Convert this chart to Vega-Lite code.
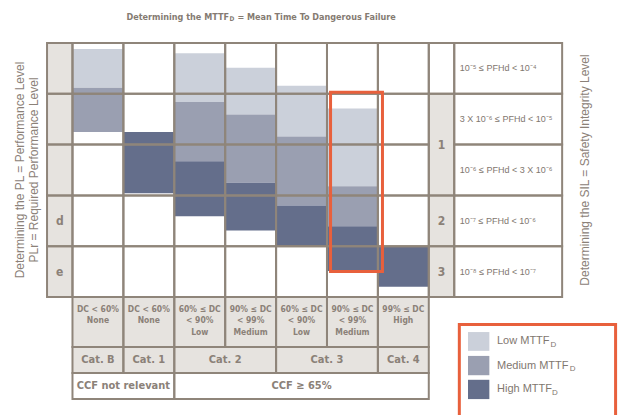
{
  "$schema": "https://vega.github.io/schema/vega-lite/v6.json",
  "width": 619,
  "height": 415,
  "padding": 0,
  "autosize": {"type": "none"},
  "background": "white",
  "view": {"stroke": null},
  "config": {"text": {"color": "#8b8178", "font": "DejaVu Sans Condensed, sans-serif"}},
  "encoding": {
    "x": {"field": "x", "type": "quantitative", "scale": {"domain": [-1.424, 10.737], "nice": false, "zero": false}, "axis": null},
    "y": {"field": "y", "type": "quantitative", "scale": {"domain": [-0.846, 7.323], "nice": false, "zero": false, "reverse": true}, "axis": null}
  },
  "resolve": {"scale": {"color": "independent"}},
  "datasets": {
    "cells": [
      {"x": -0.5, "x2": 0, "y": 0, "y2": 1, "kind": "header"},
      {"x": -0.5, "x2": 0, "y": 1, "y2": 2, "kind": "header"},
      {"x": -0.5, "x2": 0, "y": 2, "y2": 3, "kind": "header"},
      {"x": -0.5, "x2": 0, "y": 3, "y2": 4, "kind": "header"},
      {"x": -0.5, "x2": 0, "y": 4, "y2": 5, "kind": "header"},
      {"x": 0, "x2": 1, "y": 0, "y2": 1, "kind": "plain"},
      {"x": 0, "x2": 1, "y": 1, "y2": 2, "kind": "plain"},
      {"x": 0, "x2": 1, "y": 2, "y2": 3, "kind": "plain"},
      {"x": 0, "x2": 1, "y": 3, "y2": 4, "kind": "plain"},
      {"x": 0, "x2": 1, "y": 4, "y2": 5, "kind": "plain"},
      {"x": 1, "x2": 2, "y": 0, "y2": 1, "kind": "plain"},
      {"x": 1, "x2": 2, "y": 1, "y2": 2, "kind": "plain"},
      {"x": 1, "x2": 2, "y": 2, "y2": 3, "kind": "plain"},
      {"x": 1, "x2": 2, "y": 3, "y2": 4, "kind": "plain"},
      {"x": 1, "x2": 2, "y": 4, "y2": 5, "kind": "plain"},
      {"x": 2, "x2": 3, "y": 0, "y2": 1, "kind": "plain"},
      {"x": 2, "x2": 3, "y": 1, "y2": 2, "kind": "plain"},
      {"x": 2, "x2": 3, "y": 2, "y2": 3, "kind": "plain"},
      {"x": 2, "x2": 3, "y": 3, "y2": 4, "kind": "plain"},
      {"x": 2, "x2": 3, "y": 4, "y2": 5, "kind": "plain"},
      {"x": 3, "x2": 4, "y": 0, "y2": 1, "kind": "plain"},
      {"x": 3, "x2": 4, "y": 1, "y2": 2, "kind": "plain"},
      {"x": 3, "x2": 4, "y": 2, "y2": 3, "kind": "plain"},
      {"x": 3, "x2": 4, "y": 3, "y2": 4, "kind": "plain"},
      {"x": 3, "x2": 4, "y": 4, "y2": 5, "kind": "plain"},
      {"x": 4, "x2": 5, "y": 0, "y2": 1, "kind": "plain"},
      {"x": 4, "x2": 5, "y": 1, "y2": 2, "kind": "plain"},
      {"x": 4, "x2": 5, "y": 2, "y2": 3, "kind": "plain"},
      {"x": 4, "x2": 5, "y": 3, "y2": 4, "kind": "plain"},
      {"x": 4, "x2": 5, "y": 4, "y2": 5, "kind": "plain"},
      {"x": 5, "x2": 6, "y": 0, "y2": 1, "kind": "plain"},
      {"x": 5, "x2": 6, "y": 1, "y2": 2, "kind": "plain"},
      {"x": 5, "x2": 6, "y": 2, "y2": 3, "kind": "plain"},
      {"x": 5, "x2": 6, "y": 3, "y2": 4, "kind": "plain"},
      {"x": 5, "x2": 6, "y": 4, "y2": 5, "kind": "plain"},
      {"x": 6, "x2": 7, "y": 0, "y2": 1, "kind": "plain"},
      {"x": 6, "x2": 7, "y": 1, "y2": 2, "kind": "plain"},
      {"x": 6, "x2": 7, "y": 2, "y2": 3, "kind": "plain"},
      {"x": 6, "x2": 7, "y": 3, "y2": 4, "kind": "plain"},
      {"x": 6, "x2": 7, "y": 4, "y2": 5, "kind": "plain"},
      {"x": 7, "x2": 7.5, "y": 0, "y2": 1, "kind": "plain"},
      {"x": 7, "x2": 7.5, "y": 1, "y2": 3, "kind": "header"},
      {"x": 7, "x2": 7.5, "y": 3, "y2": 4, "kind": "header"},
      {"x": 7, "x2": 7.5, "y": 4, "y2": 5, "kind": "header"},
      {"x": 7.5, "x2": 9.62, "y": 0, "y2": 1, "kind": "plain"},
      {"x": 7.5, "x2": 9.62, "y": 1, "y2": 2, "kind": "plain"},
      {"x": 7.5, "x2": 9.62, "y": 2, "y2": 3, "kind": "plain"},
      {"x": 7.5, "x2": 9.62, "y": 3, "y2": 4, "kind": "plain"},
      {"x": 7.5, "x2": 9.62, "y": 4, "y2": 5, "kind": "plain"},
      {"x": 0, "x2": 1, "y": 5, "y2": 5.984, "kind": "header"},
      {"x": 1, "x2": 2, "y": 5, "y2": 5.984, "kind": "header"},
      {"x": 2, "x2": 3, "y": 5, "y2": 5.984, "kind": "header"},
      {"x": 3, "x2": 4, "y": 5, "y2": 5.984, "kind": "header"},
      {"x": 4, "x2": 5, "y": 5, "y2": 5.984, "kind": "header"},
      {"x": 5, "x2": 6, "y": 5, "y2": 5.984, "kind": "header"},
      {"x": 6, "x2": 7, "y": 5, "y2": 5.984, "kind": "header"},
      {"x": 0, "x2": 1, "y": 5.984, "y2": 6.496, "kind": "header"},
      {"x": 1, "x2": 2, "y": 5.984, "y2": 6.496, "kind": "header"},
      {"x": 2, "x2": 4, "y": 5.984, "y2": 6.496, "kind": "header"},
      {"x": 4, "x2": 6, "y": 5.984, "y2": 6.496, "kind": "header"},
      {"x": 6, "x2": 7, "y": 5.984, "y2": 6.496, "kind": "header"},
      {"x": 0, "x2": 2, "y": 6.496, "y2": 7.008, "kind": "plain"},
      {"x": 2, "x2": 7, "y": 6.496, "y2": 7.008, "kind": "plain"}
    ],
    "bars": [
      {"x": 0, "x2": 1, "y": 0.12, "y2": 0.88, "level": "Low"},
      {"x": 0, "x2": 1, "y": 0.88, "y2": 1.75, "level": "Medium"},
      {"x": 1, "x2": 2, "y": 1.75, "y2": 2.96, "level": "High"},
      {"x": 2, "x2": 3, "y": 0.2, "y2": 1.16, "level": "Low"},
      {"x": 2, "x2": 3, "y": 1.16, "y2": 2.33, "level": "Medium"},
      {"x": 2, "x2": 3, "y": 2.33, "y2": 3.41, "level": "High"},
      {"x": 3, "x2": 4, "y": 0.49, "y2": 1.41, "level": "Low"},
      {"x": 3, "x2": 4, "y": 1.41, "y2": 2.75, "level": "Medium"},
      {"x": 3, "x2": 4, "y": 2.75, "y2": 3.69, "level": "High"},
      {"x": 4, "x2": 5, "y": 0.84, "y2": 1.84, "level": "Low"},
      {"x": 4, "x2": 5, "y": 1.84, "y2": 3.2, "level": "Medium"},
      {"x": 4, "x2": 5, "y": 3.2, "y2": 4.0, "level": "High"},
      {"x": 5, "x2": 6, "y": 1.29, "y2": 2.82, "level": "Low"},
      {"x": 5, "x2": 6, "y": 2.82, "y2": 3.61, "level": "Medium"},
      {"x": 5, "x2": 6, "y": 3.61, "y2": 4.49, "level": "High"},
      {"x": 6, "x2": 7, "y": 4.0, "y2": 4.8, "level": "High"}
    ]
  },
  "layer": [
    {
      "data": {"name": "cells"},
      "mark": {"type": "rect"},
      "encoding": {
        "x2": {"field": "x2"}, "y2": {"field": "y2"},
        "color": {"field": "kind", "type": "nominal", "scale": {"domain": ["header", "plain"], "range": ["#e6e3df", "#ffffff"]}, "legend": null}
      }
    },
    {
      "data": {"name": "bars"},
      "mark": {"type": "rect"},
      "encoding": {
        "x2": {"field": "x2"}, "y2": {"field": "y2"},
        "color": {"field": "level", "type": "nominal", "scale": {"domain": ["Low", "Medium", "High"], "range": ["#cbd0da", "#9a9fb1", "#646e8b"]}, "legend": null}
      }
    },
    {
      "data": {"name": "cells"},
      "mark": {"type": "rect", "filled": false, "stroke": "#8f857a", "strokeWidth": 2},
      "encoding": {"x2": {"field": "x2"}, "y2": {"field": "y2"}}
    },
    {
      "data": {"values": [
        {"box": "highlight", "x": 5.07, "x2": 6.09, "y": 0.97, "y2": 4.5},
        {"box": "legend", "x": 7.6, "x2": 10.67, "y": 5.54, "y2": 7.6}
      ]},
      "mark": {"type": "rect", "filled": false, "stroke": "#e8603c", "strokeWidth": 3},
      "encoding": {"x2": {"field": "x2"}, "y2": {"field": "y2"}}
    },
    {
      "data": {"values": [
        {"level": "Low", "x": 7.77, "x2": 8.19, "y": 5.69, "y2": 6.06},
        {"level": "Medium", "x": 7.77, "x2": 8.19, "y": 6.16, "y2": 6.54},
        {"level": "High", "x": 7.77, "x2": 8.19, "y": 6.63, "y2": 7.01}
      ]},
      "mark": {"type": "rect"},
      "encoding": {
        "x2": {"field": "x2"}, "y2": {"field": "y2"},
        "color": {"field": "level", "type": "nominal", "scale": {"domain": ["Low", "Medium", "High"], "range": ["#cbd0da", "#9a9fb1", "#646e8b"]}, "legend": null}
      }
    },
    {
      "data": {"values": [
        {"label": "Low MTTF", "x": 8.34, "y": 5.876},
        {"label": "Medium MTTF", "x": 8.34, "y": 6.35},
        {"label": "High MTTF", "x": 8.34, "y": 6.82}
      ]},
      "mark": {"type": "text", "align": "left", "baseline": "middle", "font": "Liberation Sans, Arial, sans-serif", "fontSize": 11, "color": "#7f776f"},
      "encoding": {"text": {"field": "label"}}
    },
    {
      "data": {"values": [
        {"label": "D", "x": 9.39, "y": 5.94},
        {"label": "D", "x": 9.77, "y": 6.414},
        {"label": "D", "x": 9.42, "y": 6.884}
      ]},
      "mark": {"type": "text", "align": "left", "baseline": "middle", "font": "Liberation Sans, Arial, sans-serif", "fontSize": 8, "color": "#7f776f"},
      "encoding": {"text": {"field": "label"}}
    },
    {
      "data": {"values": [{"label": "Determining the MTTF", "x": 3.075, "y": -0.512}]},
      "mark": {"type": "text", "align": "right", "baseline": "middle", "fontSize": 9, "fontWeight": "bold", "color": "#857b72"},
      "encoding": {"text": {"field": "label"}}
    },
    {
      "data": {"values": [{"label": "D", "x": 3.085, "y": -0.47}]},
      "mark": {"type": "text", "align": "left", "baseline": "middle", "fontSize": 6.5, "fontWeight": "bold", "color": "#857b72"},
      "encoding": {"text": {"field": "label"}}
    },
    {
      "data": {"values": [{"label": "= Mean Time To Dangerous Failure", "x": 3.24, "y": -0.512}]},
      "mark": {"type": "text", "align": "left", "baseline": "middle", "fontSize": 9, "fontWeight": "bold", "color": "#857b72"},
      "encoding": {"text": {"field": "label"}}
    },
    {
      "data": {"values": [
        {"label": "Determining the PL = Performance Level\nPLr = Required Performance Level", "x": -1.03, "y": 2.5}
      ]},
      "mark": {"type": "text", "angle": 270, "align": "center", "baseline": "middle", "lineBreak": "\n", "lineHeight": 14, "font": "Liberation Sans, Arial, sans-serif", "fontSize": 12, "color": "#8b8178"},
      "encoding": {"text": {"field": "label"}}
    },
    {
      "data": {"values": [
        {"label": "Determining the SIL = Safety Integrity Level", "x": 10.07, "y": 2.5}
      ]},
      "mark": {"type": "text", "angle": 270, "align": "center", "baseline": "middle", "font": "Liberation Sans, Arial, sans-serif", "fontSize": 12, "color": "#8b8178"},
      "encoding": {"text": {"field": "label"}}
    },
    {
      "data": {"values": [
        {"label": "d", "x": -0.25, "y": 3.5},
        {"label": "e", "x": -0.25, "y": 4.5},
        {"label": "1", "x": 7.25, "y": 2.0},
        {"label": "2", "x": 7.25, "y": 3.5},
        {"label": "3", "x": 7.25, "y": 4.5}
      ]},
      "mark": {"type": "text", "align": "center", "baseline": "middle", "fontSize": 12, "fontWeight": "bold", "color": "#8b8178"},
      "encoding": {"text": {"field": "label"}}
    },
    {
      "data": {"values": [
        {"label": "10⁻⁵ ≤ PFHd < 10⁻⁴", "x": 7.61, "y": 0.5},
        {"label": "3 X 10⁻⁶ ≤ PFHd < 10⁻⁵", "x": 7.61, "y": 1.5},
        {"label": "10⁻⁶ ≤ PFHd < 3 X 10⁻⁶", "x": 7.61, "y": 2.5},
        {"label": "10⁻⁷ ≤ PFHd < 10⁻⁶", "x": 7.61, "y": 3.5},
        {"label": "10⁻⁸ ≤ PFHd < 10⁻⁷", "x": 7.61, "y": 4.5}
      ]},
      "mark": {"type": "text", "align": "left", "baseline": "middle", "font": "Liberation Sans, Arial, sans-serif", "fontSize": 9, "color": "#7f776f"},
      "encoding": {"text": {"field": "label"}}
    },
    {
      "data": {"values": [
        {"label": "DC < 60%\nNone", "x": 0.5, "y": 5.15},
        {"label": "DC < 60%\nNone", "x": 1.5, "y": 5.15},
        {"label": "60% ≤ DC\n< 90%\nLow", "x": 2.5, "y": 5.15},
        {"label": "90% ≤ DC\n< 99%\nMedium", "x": 3.5, "y": 5.15},
        {"label": "60% ≤ DC\n< 90%\nLow", "x": 4.5, "y": 5.15},
        {"label": "90% ≤ DC\n< 99%\nMedium", "x": 5.5, "y": 5.15},
        {"label": "99% ≤ DC\nHigh", "x": 6.5, "y": 5.15}
      ]},
      "mark": {"type": "text", "align": "center", "baseline": "top", "lineBreak": "\n", "lineHeight": 11.5, "fontSize": 8.5, "fontWeight": "bold", "color": "#8b8178"},
      "encoding": {"text": {"field": "label"}}
    },
    {
      "data": {"values": [
        {"label": "Cat. B", "x": 0.5, "y": 6.24},
        {"label": "Cat. 1", "x": 1.5, "y": 6.24},
        {"label": "Cat. 2", "x": 3.0, "y": 6.24},
        {"label": "Cat. 3", "x": 5.0, "y": 6.24},
        {"label": "Cat. 4", "x": 6.5, "y": 6.24},
        {"label": "CCF not relevant", "x": 1.0, "y": 6.752},
        {"label": "CCF ≥ 65%", "x": 4.5, "y": 6.752}
      ]},
      "mark": {"type": "text", "align": "center", "baseline": "middle", "fontSize": 11, "fontWeight": "bold", "color": "#8b8178"},
      "encoding": {"text": {"field": "label"}}
    }
  ]
}
